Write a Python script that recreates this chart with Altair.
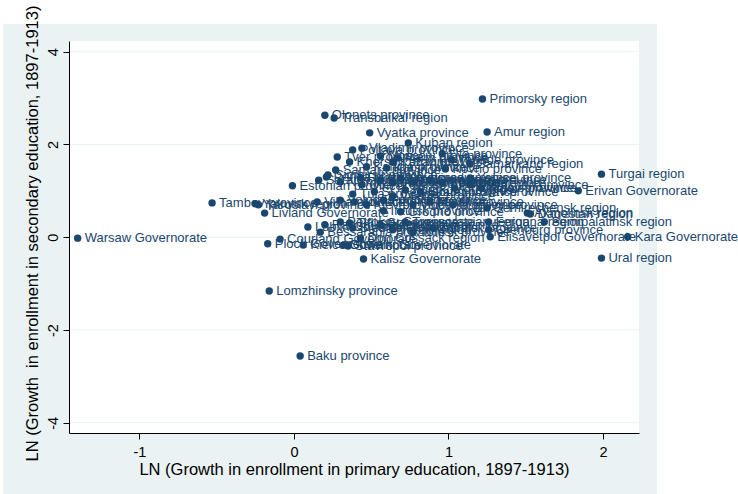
import altair as alt
import pandas as pd

# Province / region names with their log growth in primary (x) and secondary (y) enrollment
names = [
    "Warsaw Governorate", "Tambov province", "Yakutsk region", "Yaroslavl province",
    "Livland Governorate", "Estonian province", "Vilna province", "Courland Governorate",
    "Plock Governorate", "Kielce Governorate", "Stavropol province", "Kalisz Governorate",
    "Lomzhinsky province", "Baku province", "Primorsky region", "Amur region",
    "Olonets province", "Transbaikal region", "Vyatka province", "Kuban region",
    "Vladimir province", "Poltava province", "Tver province", "Kherson province",
    "Samara province", "Turgai region", "Erivan Governorate", "Akmolinsk region",
    "Dagestan region", "Semipalatinsk region", "Fergana region", "Orenburg province",
    "Elisavetpol Governorate", "Kara Governorate", "Ural region", "Samarkand region",
    "Kovno province", "Ufa province", "Tauride province", "Syrdarya region",
    "Kutais province", "Semirechensk region", "Irkutsk province", "Transcaspian region",
    "Tiflis Governorate", "Don Cossack region", "Bessarabia province",
    "Moscow province", "Kursk province", "Kazan province", "Perm province",
    "Penza province", "Simbirsk province", "Saratov province", "Nizhny Novgorod province",
    "Ryazan province", "Kaluga province", "Tula province", "Orel province",
    "Kostroma province", "Voronezh province", "Novgorod province", "Pskov province",
    "Smolensk province", "Chernigov province", "Astrakhan province", "Vologda province",
    "Arkhangelsk province", "Kiev province", "Podolia province", "Volhynia province",
    "Minsk province", "Mogilev province", "Vitebsk province", "Grodno province",
    "Ekaterinoslav province", "Kharkov province", "St. Petersburg province",
    "Yenisei province", "Black Sea province", "Terek region", "Tomsk province",
    "Tobolsk province", "Lublin Governorate", "Radom Governorate",
    "Petrokov Governorate", "Siedlce Governorate", "Suwalki Governorate",
]

primary = [
    -1.40, -0.53, -0.25, -0.23,
    -0.19, -0.01, 0.15, -0.09,
    -0.17, 0.06, 0.35, 0.45,
    -0.16, 0.04, 1.22, 1.25,
    0.20, 0.26, 0.49, 0.74,
    0.44, 0.38, 0.28, 0.36,
    0.27, 1.99, 1.84, 1.51,
    1.53, 1.62, 1.26, 1.26,
    1.27, 2.16, 1.99, 1.14,
    0.98, 0.96, 1.02, 0.96,
    1.21, 1.25, 0.58, 0.72,
    0.36, 0.43, 0.17,
    0.56, 0.60, 0.64, 0.67,
    0.21, 0.22, 0.16, 0.30,
    0.43, 0.47, 0.38, 0.44,
    0.56, 0.64, 0.69, 0.77,
    0.88, 1.04, 1.14, 0.30,
    0.39, 0.47, 0.58, 0.77,
    0.88, 1.03, 0.64, 0.69,
    0.82, 0.72, 0.52,
    1.14, 0.56, 0.64, 0.77,
    0.90, 0.09, 0.20,
    0.30, 0.38, 0.32,
]

secondary = [
    -0.02, 0.74, 0.72, 0.70,
    0.52, 1.11, 0.76, -0.04,
    -0.14, -0.17, -0.19, -0.47,
    -1.16, -2.56, 2.98, 2.27,
    2.63, 2.57, 2.25, 2.03,
    1.92, 1.88, 1.73, 1.62,
    1.45, 1.36, 1.00, 0.52,
    0.50, 0.33, 0.33, 0.16,
    0.01, 0.01, -0.45, 1.58,
    1.47, 1.80, 1.67, 1.17,
    1.06, 0.63, 0.57, 0.33,
    0.31, -0.02, 0.11,
    1.75, 1.49, 1.62, 1.71,
    1.30, 1.34, 1.23, 1.19,
    1.28, 1.52, 0.93, 1.13,
    1.23, 1.17, 1.28, 1.19,
    1.23, 1.06, 1.13, 0.80,
    0.76, 0.70, 0.80, 0.70,
    0.76, 0.70, 0.89, 0.55,
    0.98, 1.02, 0.98,
    1.28, 0.27, 0.16, 0.11,
    0.20, 0.22, 0.27,
    0.33, 0.20, -0.17,
]

x_ticks = [-1, 0, 1, 2]
y_ticks = [-4, -2, 0, 2, 4]

df = pd.DataFrame({"region": names, "primary": primary, "secondary": secondary})
grid_df = pd.DataFrame({"level": y_ticks})

W, H = 570, 392
NAVY = "#1a476f"
PANEL = "#eaf2f3"
FONT = "Arial, Liberation Sans, sans-serif"

x_scale = alt.Scale(domain=[-1.456, 2.233], nice=False, zero=False)
y_scale = alt.Scale(domain=[-4.22, 4.23], nice=False, zero=False)

# plain hyphen for negative tick labels
hyphen_labels = "datum.value < 0 ? '-' + abs(datum.value) : '' + datum.value"

common_axis = dict(
    domainColor="#000000", domainWidth=1, tickColor="#000000", tickWidth=1,
    tickSize=6, labelColor="#000000", labelFont=FONT, labelFontSize=14.5,
    titleColor="#000000", titleFont=FONT, titleFontSize=16.5,
    titleFontWeight="normal", labelOverlap=False, zindex=1, grid=False,
    labelExpr=hyphen_labels,
)

x_axis = alt.Axis(
    title="LN (Growth in enrollment in primary education, 1897-1913)",
    values=x_ticks, labelFlush=False, labelPadding=6,
    titleY=36, titleBaseline="middle", **common_axis,
)
y_axis = alt.Axis(
    title="LN (Growth\u00a0 in enrollment in secondary education, 1897-1913)",
    values=y_ticks,
    labelAngle=270, labelAlign="center", labelBaseline="alphabetic",
    labelPadding=6, titleX=-37, titleY=192, titleAngle=270,
    titleAlign="center", titleBaseline="middle", **common_axis,
)

one = alt.Data(values=[{}])

# light graph region behind the white plot region
outer = alt.Chart(one).mark_rect(color=PANEL, clip=False).encode(
    x=alt.value(-66), x2=alt.value(588), y=alt.value(-17), y2=alt.value(470)
)
inner = alt.Chart(one).mark_rect(color="white").encode(
    x=alt.value(0), x2=alt.value(W), y=alt.value(0), y2=alt.value(H)
)

# horizontal grid lines at the y tick values, drawn beneath the markers
grid = alt.Chart(grid_df).mark_rule(color=PANEL, strokeWidth=1).encode(
    y=alt.Y("level:Q", scale=y_scale, axis=y_axis)
)

base = alt.Chart(df).encode(
    x=alt.X("primary:Q", scale=x_scale, axis=x_axis),
    y=alt.Y("secondary:Q", scale=y_scale, axis=y_axis),
)

labels = base.mark_text(
    align="left", baseline="middle", dx=7, fontSize=13, font=FONT, color=NAVY
).encode(text="region:N")

points = base.mark_circle(size=55, color=NAVY, opacity=1)

chart = (
    alt.layer(outer, inner, grid, labels, points)
    .properties(
        width=W, height=H,
        padding={"left": 69, "top": 41, "right": 99, "bottom": 61},
        autosize=alt.AutoSizeParams(type="none"),
        background="white",
    )
    .configure_view(stroke=None)
)

chart.save("out.html", embed_options={"renderer": "svg", "actions": False})
